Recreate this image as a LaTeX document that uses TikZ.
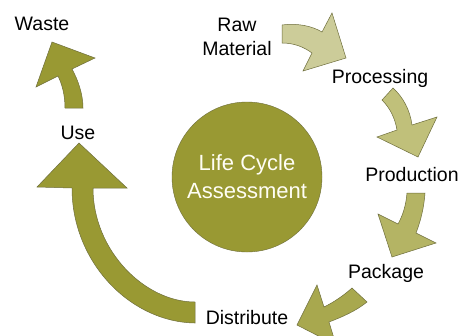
\documentclass[tikz,border=0pt]{standalone}
\usepackage{fontspec}
\setmainfont{Liberation Sans}
\usepackage{xcolor}
\usepackage{tikz}

\definecolor{olive}{RGB}{153,153,51}
\definecolor{khaki1}{RGB}{204,204,153}
\definecolor{khaki2}{RGB}{192,192,122}
\definecolor{khaki3}{RGB}{180,180,100}
\definecolor{khaki4}{RGB}{168,168,78}
\definecolor{rim}{RGB}{110,110,60}

\begin{document}
\begin{tikzpicture}[x=1pt,y=-1pt,
		lbl/.style={font=\fontsize{19.5}{24}\selectfont, align=center, inner sep=0pt},
		blockarrow/.style={draw=rim, line width=0.5pt, line join=miter}]
			\clip (0,0) rectangle (462,335);
			\fill[white] (0,0) rectangle (462,335);

			\node[shape=circle, draw=rim, fill=olive, minimum size=150pt, text=white!96!yellow, font=\fontsize{22}{28}\selectfont, align=center] (lca) at (247,177) {Life Cycle\\Assessment};

			\node[lbl] (raw) at (237,37) {Raw\\Material};
			\node[lbl] (proc) at (380,78) {Processing};
			\node[lbl] (prod) at (412,175) {Production};
			\node[lbl] (pack) at (386,273) {Package};
			\node[lbl] (dist) at (247,318) {Distribute};
			\node[lbl] (use) at (78,133) {Use};
			\node[lbl] (waste) at (42,24) {Waste};

			%% arrows
			\filldraw[blockarrow, fill=khaki1] (282,25) .. controls (298,23) and (312,26) .. (322,32) -- (332,13) -- (346,58) -- (303,71) -- (312,53) .. controls (304,47) and (294,43) .. (282,43) -- cycle;
			\filldraw[blockarrow, fill=khaki2] (382,100) .. controls (390,108) and (395,118) .. (397,130) -- (377,137) -- (418,157) -- (437,117) -- (412,125) .. controls (410,110) and (403,97) .. (393,88) -- cycle;
			\filldraw[blockarrow, fill=khaki3] (407,193) .. controls (406,205) and (403,215) .. (398,224) -- (378,214) -- (392,257) -- (436,243) -- (416,233) .. controls (421,220) and (424,207) .. (425,193) -- cycle;
			\filldraw[blockarrow, fill=khaki4] (352,288) .. controls (343,296) and (334,302) .. (324,307) -- (317,285) -- (297,325) -- (336,345) -- (329,322) .. controls (342,317) and (356,311) .. (367,302) -- cycle;
			\filldraw[blockarrow, fill=olive] (195,302) .. controls (145,302) and (93,251) .. (93,188) -- (127,188) -- (79,143) -- (37,187) -- (72,188) .. controls (72,262) and (130,322) .. (195,323) -- cycle;
			\filldraw[blockarrow, fill=olive] (65,108) .. controls (65,95) and (62,84) .. (58,76) -- (36,87) -- (52,42) -- (95,58) -- (72,69) .. controls (78,80) and (83,94) .. (83,108) -- cycle;
		\end{tikzpicture}
\end{document}
